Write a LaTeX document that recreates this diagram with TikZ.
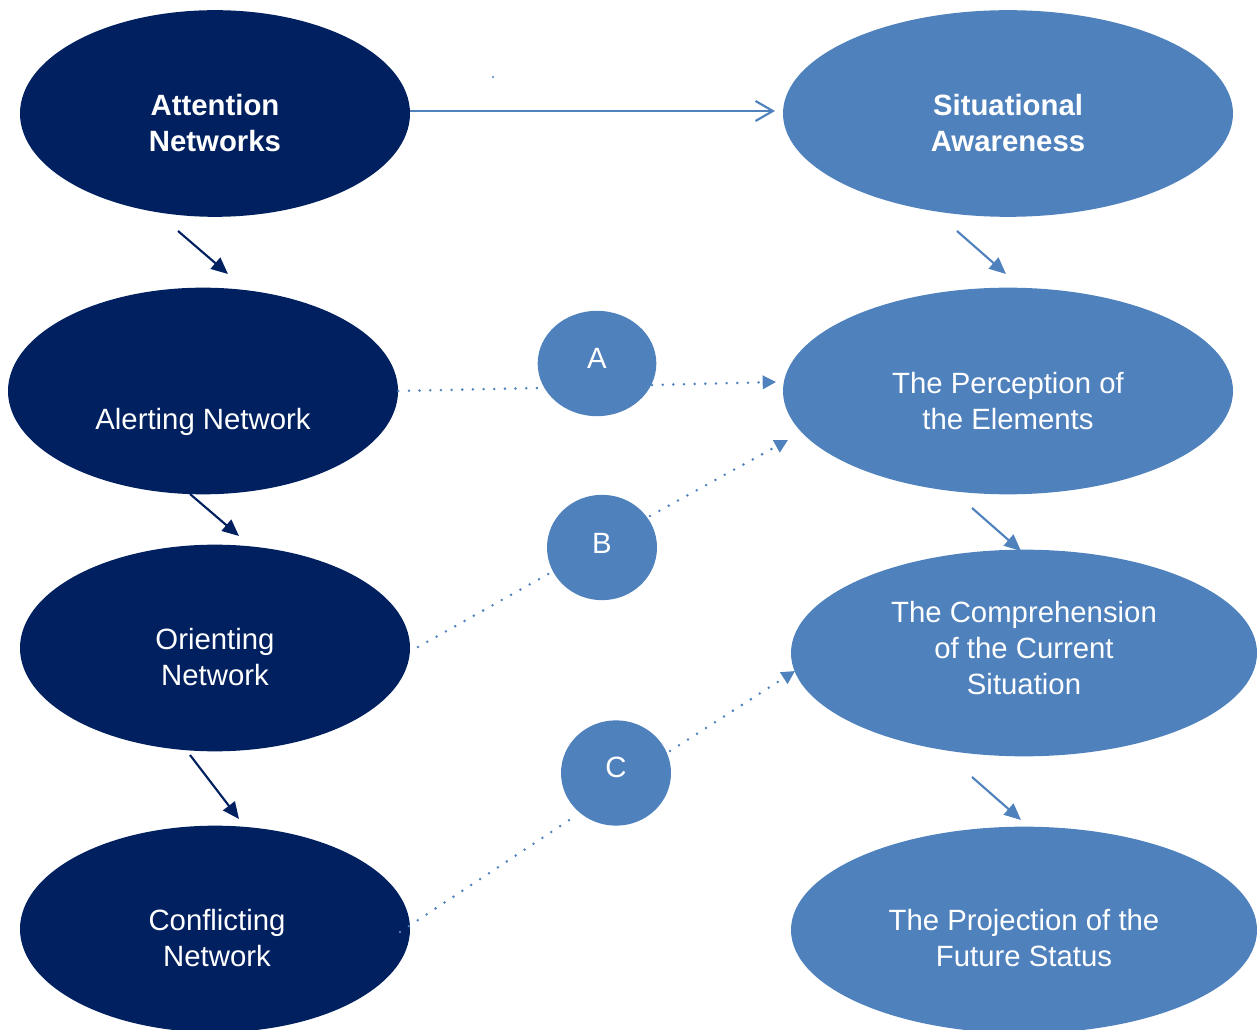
\documentclass[tikz,border=0pt]{standalone}
\usepackage{fontspec}
\setmainfont{Liberation Sans}
\usetikzlibrary{shapes.geometric,arrows.meta}
\definecolor{navy}{RGB}{0,32,96}
\definecolor{steel}{RGB}{79,129,189}
\begin{document}
\begin{tikzpicture}[x=0.75pt,y=-0.75pt,
  oval/.style={ellipse,draw=none,inner sep=0pt},
  darkoval/.style={oval,fill=navy},
  lightoval/.style={oval,fill=steel},
  wide/.style={minimum width=292.5pt,minimum height=155pt},
  wider/.style={minimum width=337.5pt,minimum height=155pt},
  widest/.style={minimum width=349.5pt,minimum height=155pt},
  lbl/.style={text=white,align=center,inner sep=0pt,font=\fontsize{22}{27}\selectfont},
  blbl/.style={lbl,font=\fontsize{22}{27}\selectfont\bfseries},
  darkarrow/.style={draw=navy,line width=1.6pt,-{Triangle[length=12.5pt,width=11pt]}},
  lightarrow/.style={draw=steel,line width=1.6pt,-{Triangle[length=12.5pt,width=11pt]}},
  dotline/.style={draw=steel,line width=2.1pt,line cap=round,dash pattern=on 0pt off 8pt},
  dotarrow/.style={dotline,-{Triangle[length=10pt,width=10pt]}}
]
\useasboundingbox (0,0) rectangle (1258,1030);
\clip (0,0) rectangle (1258,1030);

% left column: attention networks
\node[darkoval,wide] (att) at (215,113.5) {};
\node[darkoval,wide] (alert) at (203,391) {};
\node[darkoval,wide] (orient) at (215,648) {};
\node[darkoval,wide] (confl) at (215,929) {};

% right column: situational awareness levels
\node[lightoval,wider] (sa) at (1008,113.5) {};
\node[lightoval,wider] (perc) at (1008,391) {};
\node[lightoval,widest] (compr) at (1024,653) {};
\node[lightoval,widest] (proj) at (1024,930) {};

% linking circles
\node[lightoval,minimum width=89pt,minimum height=79pt] (A) at (597,363.5) {};
\node[lightoval,minimum width=82.5pt,minimum height=79pt] (B) at (602,547.5) {};
\node[lightoval,minimum width=82.5pt,minimum height=79pt] (C) at (616,773) {};

% labels
\node[blbl] (attT) at (215,123) {Attention\\Networks};
\node[lbl] (alertT) at (203,421.5) {Alerting Network};
\node[lbl] (orientT) at (215,657) {Orienting\\Network};
\node[lbl] (conflT) at (217,938.5) {Conflicting\\Network};
\node[blbl] (saT) at (1008,123) {Situational\\Awareness};
\node[lbl] (percT) at (1008,401) {The Perception of\\the Elements};
\node[lbl] (comprT) at (1024,648) {The Comprehension\\of the Current\\Situation};
\node[lbl] (projT) at (1024,938.5) {The Projection of the\\Future Status};
\node[lbl] (AT) at (597,358) {A};
\node[lbl] (BT) at (602,543) {B};
\node[lbl] (CT) at (616,767) {C};

% main link between the two frameworks
\draw[draw=steel,line width=1.6pt,-{Straight Barb[length=13pt,width=15pt]}]
  (att.east |- 0,111) -- (775,111) coordinate (saIn);
\fill[steel] (493,77) circle (0.9pt);

% hierarchy arrows, left column
\coordinate (l1s) at (178,231); \coordinate (l1e) at (228,274);
\coordinate (l2s) at (190,494); \coordinate (l2e) at (239,536);
\coordinate (l3s) at (190,755); \coordinate (l3e) at (239,819);
\draw[darkarrow] (l1s) -- (l1e);
\draw[darkarrow] (l2s) -- (l2e);
\draw[darkarrow] (l3s) -- (l3e);

% hierarchy arrows, right column
\coordinate (r1s) at (957,231); \coordinate (r1e) at (1006,274);
\coordinate (r2s) at (972,508); \coordinate (r2e) at (1021,551);
\coordinate (r3s) at (972,777); \coordinate (r3e) at (1021,820);
\draw[lightarrow] (r1s) -- (r1e);
\draw[lightarrow] (r2s) -- (r2e);
\draw[lightarrow] (r3s) -- (r3e);

% dotted links through the circles
\coordinate (aIn) at (538,388); \coordinate (aOut) at (652,385); \coordinate (aEnd) at (776,382);
\coordinate (bSt) at (418,647); \coordinate (bIn) at (550,573); \coordinate (bOut) at (650,516); \coordinate (bEnd) at (788,440);
\coordinate (cSt) at (400,932); \coordinate (cIn) at (577,815); \coordinate (cOut) at (670,751); \coordinate (cEnd) at (795,671);
\draw[dotline] (alert.east) -- (aIn);
\draw[dotarrow] (aOut) -- (aEnd);
\draw[dotline] (bSt) -- (bIn);
\draw[dotarrow] (bOut) -- (bEnd);
\draw[dotline] (cSt) -- (cIn);
\draw[dotarrow] (cOut) -- (cEnd);
\end{tikzpicture}
\end{document}
